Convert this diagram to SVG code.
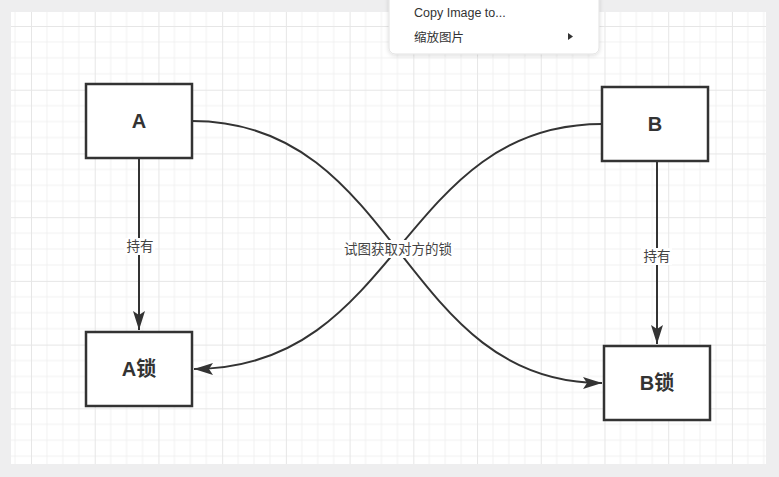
<svg xmlns="http://www.w3.org/2000/svg" width="779" height="477" viewBox="0 0 779 477">
  <defs>
    <pattern id="grid" patternUnits="userSpaceOnUse" x="31" y="26" width="63.72" height="63.72">
      <path d="M15.93 0V63.72M31.86 0V63.72M47.79 0V63.72M0 15.93H63.72M0 31.86H63.72M0 47.79H63.72" stroke="#f1f1f1" stroke-width="1" fill="none"/>
      <path d="M0.5 0V63.72M0 0.5H63.72" stroke="#e6e6e6" stroke-width="1" fill="none"/>
    </pattern>
    <marker id="arrow" viewBox="0 0 20 12" refX="19" refY="6" markerWidth="20" markerHeight="12" markerUnits="userSpaceOnUse" orient="auto">
      <path d="M0 0 L19 6 L0 12 L4 6 Z" fill="#333333"/>
    </marker>
    <filter id="shadow" x="-10%" y="-30%" width="120%" height="160%">
      <feDropShadow dx="0" dy="1" stdDeviation="2" flood-color="#000" flood-opacity="0.15"/>
    </filter>
  </defs>
  <style>
    .box { fill: #ffffff; stroke: #333333; stroke-width: 2.5; }
    .node-text { font-family: "Liberation Sans", "Noto Sans CJK SC", sans-serif; font-size: 20px; font-weight: bold; fill: #333333; text-anchor: middle; }
    .edge { fill: none; stroke: #333333; stroke-width: 2; }
    .edge-label { font-family: "Liberation Sans", "Noto Sans CJK SC", sans-serif; font-size: 13.5px; fill: #444444; text-anchor: middle; }
    .menu-text { font-family: "Liberation Sans", "Noto Sans CJK SC", sans-serif; font-size: 12.5px; fill: #333333; }
  </style>

  <rect x="0" y="0" width="779" height="477" fill="#eeeeef"/>
  <rect x="11" y="12" width="755" height="452" fill="#ffffff"/>
  <rect x="11" y="12" width="755" height="452" fill="url(#grid)"/>

  <g id="connectors">
    <path class="edge" d="M139 158 V330" marker-end="url(#arrow)"/>
    <path class="edge" d="M657 161 V344" marker-end="url(#arrow)"/>
    <path class="edge" d="M192 121 C400 121 400 383 602 383" marker-end="url(#arrow)"/>
    <path class="edge" d="M602 124 C400 124 400 369 194 369" marker-end="url(#arrow)"/>
    <rect x="124" y="238" width="31" height="17" fill="#ffffff"/>
    <text class="edge-label" x="140" y="251">持有</text>
    <rect x="641" y="248" width="31" height="17" fill="#ffffff"/>
    <text class="edge-label" x="657" y="261">持有</text>
    <rect x="342" y="240" width="112" height="18" fill="#ffffff"/>
    <text class="edge-label" x="398" y="254">试图获取对方的锁</text>
  </g>

  <g id="node-A">
    <rect class="box" x="86" y="84" width="106" height="74"/>
    <text class="node-text" x="139" y="128">A</text>
  </g>
  <g id="node-B">
    <rect class="box" x="602" y="87" width="106" height="74"/>
    <text class="node-text" x="655" y="131">B</text>
  </g>
  <g id="node-A-lock">
    <rect class="box" x="86" y="332" width="106" height="74"/>
    <text class="node-text" x="139" y="376">A锁</text>
  </g>
  <g id="node-B-lock">
    <rect class="box" x="604" y="346" width="106" height="74"/>
    <text class="node-text" x="657" y="390">B锁</text>
  </g>

  <g id="context-menu">
    <rect x="389" y="-8" width="210" height="62" rx="6" fill="#ffffff" stroke="#e2e2e2" stroke-width="1" filter="url(#shadow)"/>
    <text class="menu-text" x="414" y="17">Copy Image to...</text>
    <text class="menu-text" x="414" y="42">缩放图片</text>
    <path d="M568 33 L573 36.5 L568 40 Z" fill="#333333"/>
  </g>
</svg>
